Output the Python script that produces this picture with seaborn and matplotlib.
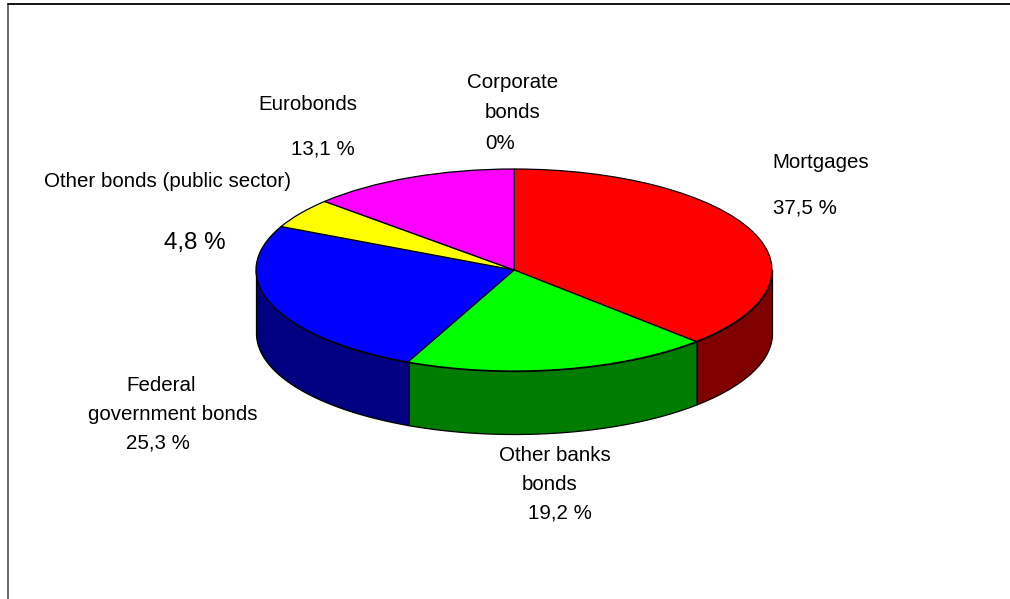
import numpy as np
import matplotlib
matplotlib.use("Agg")
import matplotlib.pyplot as plt
import seaborn as sns

# Portfolio shares in percent, clockwise from twelve o'clock
categories = ["Mortgages", "Other banks bonds", "Federal government bonds",
              "Other bonds (public sector)", "Eurobonds", "Corporate bonds"]
shares = [37.5, 19.2, 25.3, 4.8, 13.1, 0.0]
top_colors = ["#FF0000", "#00FF00", "#0000FF", "#FFFF00", "#FF00FF", "#00FFFF"]
side_colors = ["#800000", "#007C00", "#000080", "#808000", "#800080", "#008080"]

sns.set_theme(style="white")
plt.rcParams["font.family"] = ["Liberation Sans", "DejaVu Sans"]

W, H = 1010, 599
CX, CY, RX, RY, DEPTH = 514.0, 270.0, 258.0, 101.0, 63.0

fig = plt.figure(figsize=(W / 100, H / 100), dpi=100, facecolor="white")
ax = fig.add_axes([0, 0, 1, 1])

# Lid of the cylinder: an ordinary pie on axes stretched into an ellipse
ax.pie(shares, colors=top_colors, startangle=90, counterclock=False, radius=1.0,
       wedgeprops=dict(edgecolor="black", linewidth=0.9, zorder=3))
ax.set_aspect("auto")
ax.set_xlim((0 - CX) / RX, (W - CX) / RX)
ax.set_ylim((CY - H) / RY, CY / RY)
ax.set_axis_off()

# Visible rim: the front half of each slice, extruded downward
depth = DEPTH / RY
edges = np.cumsum([0.0] + shares) / 100 * 2 * np.pi
for start, end, color in zip(edges[:-1], edges[1:], side_colors):
    lo, hi = max(start, np.pi / 2), min(end, 3 * np.pi / 2)
    if hi <= lo:
        continue
    t = np.linspace(lo, hi, 200)
    x, y = np.sin(t), np.cos(t)
    ax.fill_between(x, y, y - depth, facecolor=color, edgecolor="black",
                    linewidth=0.9, zorder=2)


def label(px, py, text, size=14.8):
    ax.text((px - CX) / RX, (CY - py) / RY, text, fontsize=size, color="black",
            ha="left", va="center", zorder=5)


label(772, 162, "Mortgages")
label(773, 208, "37,5 %")
label(467, 82, "Corporate")
label(485, 112, "bonds")
label(485, 143, "0%")
label(258, 104, "Eurobonds")
label(291, 149, "13,1 %")
label(44, 181, "Other bonds (public sector)")
label(164, 243, "4,8 %", size=17.4)
label(126, 385, "Federal")
label(88, 414, "government bonds")
label(126, 443, "25,3 %")
label(499, 455, "Other banks")
label(522, 484, "bonds")
label(528, 513, "19,2 %")

# Chart-area border: only the left and top edges fall inside the canvas
ax.add_artist(plt.Line2D([7.5 / W, 7.5 / W], [0, 1 - 3.5 / H], transform=fig.transFigure,
                         color="#404040", linewidth=1.1))
ax.add_artist(plt.Line2D([7.5 / W, 1], [1 - 3.5 / H, 1 - 3.5 / H], transform=fig.transFigure,
                         color="black", linewidth=1.3))

fig.savefig("out.png", dpi=100, facecolor="white")
